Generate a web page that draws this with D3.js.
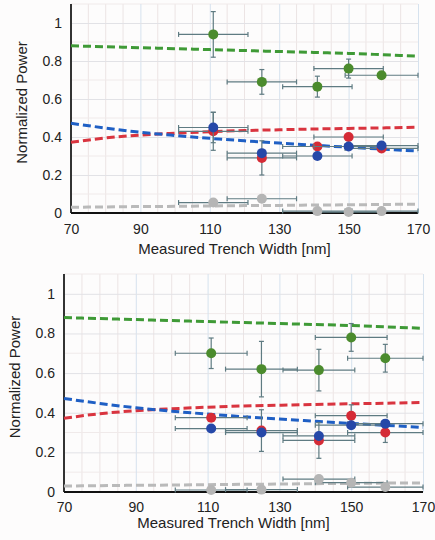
<!DOCTYPE html>
<html>
<head>
<meta charset="utf-8">
<script src="https://cdn.jsdelivr.net/npm/d3@7"></script>
<style>
  body { margin: 0; background: #fdfcfc; }
  svg { display: block; font-family: "Liberation Sans", Arial, sans-serif; }
  .tick text { font-size: 14px; fill: #222; }
  .labels { font-size: 15px; fill: #222; }
</style>
</head>
<body>
<div id="graf"></div>
<script>
// datos
const anchos = [111, 125, 141, 150, 159.5]
const errAncho = [10, 10, 10, 10, 10.5]

// panel superior
const verdeA = [0.94, 0.69, 0.665, 0.76, 0.725]
const errVerdeA = [0.12, 0.065, 0.055, 0.05, 0.01]
const rojoA = [0.43, 0.29, 0.35, 0.40, 0.34]
const errRojoA = [0.10, 0.09, 0.015, 0.015, 0.015]
const azulA = [0.45, 0.315, 0.30, 0.35, 0.355]
const errAzulA = [0.08, 0.015, 0.015, 0.015, 0.015]
const grisA = [0.055, 0.075, 0.01, 0.005, 0.01]
const errGrisA = [0.01, 0.01, 0.01, 0.01, 0.01]

// panel inferior
const verdeB = [0.70, 0.62, 0.615, 0.78, 0.675]
const errVerdeB = [0.077, 0.14, 0.105, 0.07, 0.07]
const rojoB = [0.375, 0.31, 0.26, 0.385, 0.30]
const errRojoB = [0.015, 0.105, 0.09, 0.055, 0.05]
const azulB = [0.32, 0.30, 0.283, 0.337, 0.345]
const errAzulB = [0.015, 0.015, 0.015, 0.015, 0.015]
const grisB = [0.01, 0.012, 0.065, 0.047, 0.025]
const errGrisB = [0.01, 0.01, 0.01, 0.01, 0.01]

// curvas de ajuste (iguales en ambos paneles)
const xAjuste = [70, 80, 90, 100, 110, 120, 130, 140, 150, 160, 170]
const ajusteVerde = [0.88, 0.875, 0.87, 0.865, 0.86, 0.855, 0.85, 0.845, 0.84, 0.833, 0.826]
const ajusteRojo = [0.372, 0.395, 0.41, 0.42, 0.428, 0.434, 0.438, 0.442, 0.445, 0.448, 0.452]
const ajusteAzul = [0.472, 0.447, 0.425, 0.408, 0.393, 0.38, 0.368, 0.357, 0.346, 0.336, 0.326]
const ajusteGris = [0.03, 0.032, 0.034, 0.035, 0.037, 0.039, 0.04, 0.042, 0.043, 0.045, 0.046]

const ticksX = [70, 90, 110, 130, 150, 170]
const ticksY = [0, 0.2, 0.4, 0.6, 0.8, 1]

const colores = {
  verde: { punto: "#4b8b2d", linea: "#3f9a36" },
  rojo: { punto: "#d52b36", linea: "#d9343f" },
  azul: { punto: "#2648a8", linea: "#1f5fc4" },
  gris: { punto: "#b5b5b5", linea: "#bababa" }
}

const svg = d3.select("#graf")
  .append("svg")
  .attr("width", 435)
  .attr("height", 540)

// dibuja un panel
const panel = (cfg) => {
  const g = svg.append("g").attr("transform", `translate(${cfg.left}, ${cfg.top})`)
  const x = d3.scaleLinear().domain([70, 170]).range([0, cfg.ancho])
  const y = d3.scaleLinear().domain([0, 1.1]).range([cfg.alto, 0])

  // rejilla menor
  g.append("g").selectAll("line").data(d3.range(75, 170, 5).filter((v) => (v - 70) % 20 !== 0))
    .join("line")
    .attr("x1", (d) => x(d)).attr("x2", (d) => x(d))
    .attr("y1", 0).attr("y2", cfg.alto)
    .attr("stroke", "#ece4e4").attr("stroke-width", 1)
  g.append("g").selectAll("line").data([0.1, 0.3, 0.5, 0.7, 0.9, 1.1])
    .join("line")
    .attr("x1", 0).attr("x2", cfg.ancho)
    .attr("y1", (d) => y(d)).attr("y2", (d) => y(d))
    .attr("stroke", "#f0eaea").attr("stroke-width", 1)

  // ejes con rejilla mayor
  g.append("g")
    .attr("transform", `translate(0, ${cfg.alto})`)
    .call(d3.axisBottom(x).tickValues(ticksX).tickSize(-cfg.alto).tickPadding(cfg.padX).tickFormat(d3.format("d")))
    .call((a) => a.select(".domain").remove())
    .call((a) => a.selectAll(".tick line").attr("stroke", "#d6e2ee"))
  g.append("g")
    .call(d3.axisLeft(y).tickValues(ticksY).tickSize(-cfg.ancho).tickPadding(9).tickFormat((d) => d === 0 || d === 1 ? d : d.toFixed(1)))
    .call((a) => a.select(".domain").remove())
    .call((a) => a.selectAll(".tick line").attr("stroke", "#e2e2e6"))

  g.append("line").attr("x1", 0).attr("x2", 0).attr("y1", 0).attr("y2", cfg.alto)
    .attr("stroke", "#333").attr("stroke-width", 2)
  g.append("line").attr("x1", 0).attr("x2", cfg.ancho).attr("y1", cfg.alto).attr("y2", cfg.alto)
    .attr("stroke", "#111").attr("stroke-width", 2)

  // curvas de ajuste
  const linea = d3.line().curve(d3.curveMonotoneX).x((d) => x(d[0])).y((d) => y(d[1]))
  const ajustes = [
    [ajusteGris, "gris"], [ajusteVerde, "verde"], [ajusteRojo, "rojo"], [ajusteAzul, "azul"]
  ]
  ajustes.forEach(([vals, c]) => {
    g.append("path")
      .datum(xAjuste.map((v, i) => [v, vals[i]]))
      .attr("d", linea)
      .attr("fill", "none")
      .attr("stroke", colores[c].linea)
      .attr("stroke-width", 3)
      .attr("stroke-dasharray", "8,4")
  })

  // puntos con barras de error
  cfg.series.forEach(([vals, errs, c]) => {
    const datos = vals.map((v, i) => ({ x: anchos[i], ex: errAncho[i], y: v, ey: errs[i] }))
    const eb = g.append("g").attr("stroke", "#5f7b82").attr("stroke-width", 1.2)
    datos.forEach((d) => {
      eb.append("line").attr("x1", x(d.x - d.ex)).attr("x2", x(d.x + d.ex)).attr("y1", y(d.y)).attr("y2", y(d.y))
      eb.append("line").attr("x1", x(d.x - d.ex)).attr("x2", x(d.x - d.ex)).attr("y1", y(d.y) - 2.5).attr("y2", y(d.y) + 2.5)
      eb.append("line").attr("x1", x(d.x + d.ex)).attr("x2", x(d.x + d.ex)).attr("y1", y(d.y) - 2.5).attr("y2", y(d.y) + 2.5)
      eb.append("line").attr("x1", x(d.x)).attr("x2", x(d.x)).attr("y1", y(d.y - d.ey)).attr("y2", y(d.y + d.ey))
      eb.append("line").attr("x1", x(d.x) - 2.5).attr("x2", x(d.x) + 2.5).attr("y1", y(d.y - d.ey)).attr("y2", y(d.y - d.ey))
      eb.append("line").attr("x1", x(d.x) - 2.5).attr("x2", x(d.x) + 2.5).attr("y1", y(d.y + d.ey)).attr("y2", y(d.y + d.ey))
    })
    g.append("g").selectAll("circle").data(datos)
      .join("circle")
      .attr("cx", (d) => x(d.x))
      .attr("cy", (d) => y(d.y))
      .attr("r", 5)
      .attr("fill", colores[c].punto)
  })

  // titulos
  g.append("text")
    .attr("x", cfg.ancho / 2 - 10)
    .attr("y", cfg.alto + cfg.tituloX)
    .attr("text-anchor", "middle")
    .attr("class", "labels")
    .text("Measured Trench Width [nm]")
  g.append("text")
    .attr("transform", `translate(${cfg.tituloY}, ${cfg.alto / 2 - 6}) rotate(-90)`)
    .attr("text-anchor", "middle")
    .attr("class", "labels")
    .text("Normalized Power")
}

panel({
  left: 71, top: 4, ancho: 347, alto: 209, tituloY: -44, padX: 11, tituloX: 41,
  series: [
    [grisA, errGrisA, "gris"], [verdeA, errVerdeA, "verde"],
    [rojoA, errRojoA, "rojo"], [azulA, errAzulA, "azul"]
  ]
})

panel({
  left: 64, top: 274, ancho: 359, alto: 218, tituloY: -44, padX: 10, tituloX: 36,
  series: [
    [grisB, errGrisB, "gris"], [verdeB, errVerdeB, "verde"],
    [rojoB, errRojoB, "rojo"], [azulB, errAzulB, "azul"]
  ]
})
</script>
</body>
</html>
